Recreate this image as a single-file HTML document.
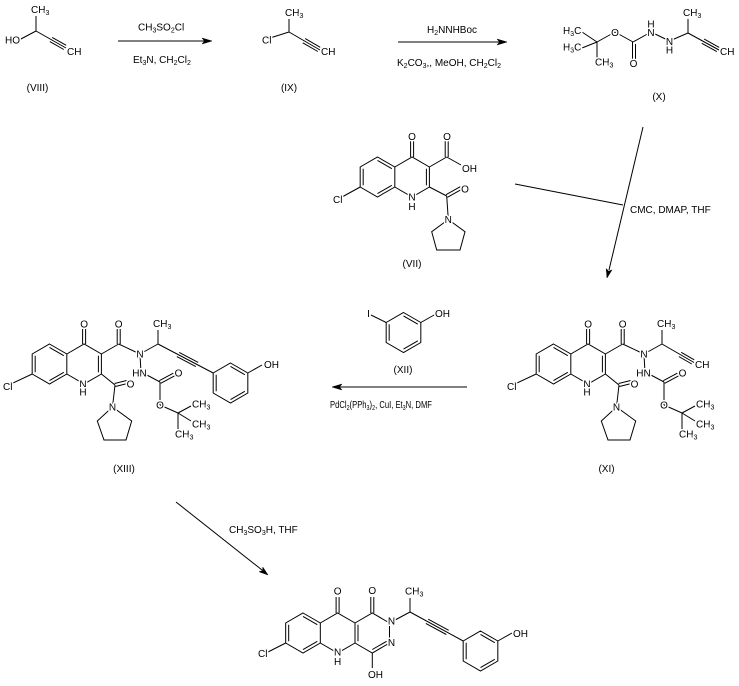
<!DOCTYPE html>
<html><head><meta charset="utf-8"><style>
html,body{margin:0;padding:0;background:#fff;}
svg{display:block}
text{font-family:"Liberation Sans",Arial,sans-serif;font-size:10px;fill:#000}
.a{stroke:#fff;stroke-width:3px;paint-order:stroke;stroke-linejoin:round}
.s{font-size:7px}
.m{text-anchor:middle}
line,path{stroke:#000;stroke-width:1;fill:none}
polygon{fill:#000;stroke:#000;stroke-width:0.5}
</style></head><body>
<svg width="739" height="686" viewBox="0 0 739 686" xmlns="http://www.w3.org/2000/svg">

<!-- ========== VIII ========== -->
<line x1="36" y1="16" x2="36" y2="31"/>
<line x1="19" y1="40" x2="36" y2="31"/>
<line x1="36" y1="31" x2="66" y2="48"/>
<line x1="49.8" y1="41.6" x2="63.8" y2="49.5"/>
<line x1="52.2" y1="37.4" x2="66.2" y2="45.3"/>
<text x="31" y="13" class="a">CH<tspan class="s" dy="2">3</tspan></text>
<text x="5" y="43.5" class="a">HO</text>
<text x="67" y="55" class="a">CH</text>
<text x="37.5" y="91" class="m">(VIII)</text>

<!-- arrow 1 -->
<line x1="118" y1="41" x2="204" y2="41"/>
<polygon points="212,41 202,38 204.5,41 202,44"/>
<text x="138" y="30.5">CH<tspan class="s" dy="2">3</tspan><tspan dy="-2">SO</tspan><tspan class="s" dy="2">2</tspan><tspan dy="-2">Cl</tspan></text>
<text x="133" y="63">Et<tspan class="s" dy="2">3</tspan><tspan dy="-2">N, CH</tspan><tspan class="s" dy="2">2</tspan><tspan dy="-2">Cl</tspan><tspan class="s" dy="2">2</tspan></text>

<!-- ========== IX ========== -->
<line x1="289" y1="19" x2="289" y2="32"/>
<line x1="270" y1="38" x2="289" y2="32"/>
<line x1="289" y1="32" x2="320" y2="50"/>
<line x1="302.8" y1="42.8" x2="317.8" y2="51.5"/>
<line x1="305.2" y1="38.6" x2="320.2" y2="47.3"/>
<text x="285" y="16" class="a">CH<tspan class="s" dy="2">3</tspan></text>
<text x="262" y="43.5" class="a">Cl</text>
<text x="321" y="55" class="a">CH</text>
<text x="289" y="91" class="m">(IX)</text>

<!-- arrow 2 -->
<line x1="398" y1="42" x2="499" y2="42"/>
<polygon points="507,42 497,39 499.5,42 497,45"/>
<text x="427" y="33">H<tspan class="s" dy="2">2</tspan><tspan dy="-2">NNHBoc</tspan></text>
<text x="397" y="66">K<tspan class="s" dy="2">2</tspan><tspan dy="-2">CO</tspan><tspan class="s" dy="2">3</tspan><tspan dy="-2">,, MeOH, CH</tspan><tspan class="s" dy="2">2</tspan><tspan dy="-2">Cl</tspan><tspan class="s" dy="2">2</tspan></text>

<!-- ========== X ========== -->
<line x1="582" y1="32" x2="597" y2="42"/>
<line x1="582" y1="48" x2="597" y2="42"/>
<line x1="597" y1="42" x2="597" y2="58"/>
<line x1="597" y1="42" x2="615" y2="32"/>
<line x1="615" y1="32" x2="633" y2="42"/>
<line x1="632.5" y1="42" x2="632.5" y2="62"/>
<line x1="635.5" y1="44" x2="635.5" y2="62"/>
<line x1="633" y1="42" x2="651" y2="32"/>
<line x1="651" y1="32" x2="669.5" y2="41"/>
<line x1="669.5" y1="41" x2="688" y2="33"/>
<line x1="688" y1="33" x2="688" y2="19"/>
<line x1="688" y1="33" x2="719" y2="50"/>
<line x1="701.8" y1="43.3" x2="716.8" y2="51.6"/>
<line x1="704.2" y1="39.1" x2="719.2" y2="47.4"/>
<text x="563" y="34" class="a">H<tspan class="s" dy="2">3</tspan><tspan dy="-2">C</tspan></text>
<text x="563" y="50.5" class="a">H<tspan class="s" dy="2">3</tspan><tspan dy="-2">C</tspan></text>
<text x="595" y="65.5" class="a">CH<tspan class="s" dy="2">3</tspan></text>
<text x="615" y="36" class="a m">O</text>
<text x="633.5" y="67" class="a m">O</text>
<text x="651" y="27.5" class="a m">H</text>
<text x="651" y="36" class="a m">N</text>
<text x="669.5" y="45" class="a m">N</text>
<text x="669.5" y="53.5" class="a m">H</text>
<text x="683" y="16" class="a">CH<tspan class="s" dy="2">3</tspan></text>
<text x="720" y="55" class="a">CH</text>
<text x="659" y="100" class="m">(X)</text>

<!-- ========== VII ========== -->
<g transform="translate(377.5,177)">
<path d="M0,-20 L17.32,-10 L17.32,10 L0,20 L-17.32,10 L-17.32,-10 Z"/>
<path d="M0,-16.54 L14.32,-8.27 M14.32,8.27 L0,16.54 M-14.32,8.27 L-14.32,-8.27"/>
</g>
<path d="M394.8,167 L412.1,157 L429.4,167 L429.4,187 L412.1,197 L394.8,187"/>
<line x1="426.4" y1="168.7" x2="426.4" y2="185.3"/>
<line x1="410.6" y1="157" x2="410.6" y2="141"/>
<line x1="413.6" y1="157" x2="413.6" y2="141"/>
<line x1="429.4" y1="167" x2="446.7" y2="157"/>
<line x1="445.2" y1="157" x2="445.2" y2="141"/>
<line x1="448.2" y1="157" x2="448.2" y2="141"/>
<line x1="446.7" y1="157" x2="461" y2="165"/>
<line x1="429.4" y1="187" x2="446.7" y2="196"/>
<line x1="447.4" y1="197.3" x2="461.7" y2="189.3"/>
<line x1="446" y1="194.7" x2="460.3" y2="186.7"/>
<line x1="446.7" y1="196" x2="448.3" y2="219.5"/>
<path d="M448.3,219.5 L465,231.7 L460,250 L436.7,250 L431.7,231.7 Z"/>
<line x1="342" y1="197" x2="360.2" y2="187"/>
<text x="412" y="140" class="a m">O</text>
<text x="447" y="140" class="a m">O</text>
<text x="462" y="172" class="a">OH</text>
<text x="465" y="192.5" class="a m">O</text>
<text x="448.3" y="223" class="a m">N</text>
<text x="333" y="203" class="a">Cl</text>
<text x="412" y="200.6" class="a m">N</text>
<text x="412" y="210" class="a m">H</text>
<text x="412" y="267" class="m">(VII)</text>

<!-- CMC arrow -->
<line x1="515" y1="184" x2="623" y2="205"/>
<line x1="643" y1="127" x2="609" y2="270"/>
<polygon points="607,278 612,269.9 608.6,271.2 606.2,268.5"/>
<text x="630" y="213">CMC, DMAP, THF</text>

<!-- ========== XII ========== -->
<g transform="translate(403.5,332.5)">
<path d="M0,-20 L17.32,-10 L17.32,10 L0,20 L-17.32,10 L-17.32,-10 Z"/>
<path d="M0,-16.54 L14.32,-8.27 M14.32,8.27 L0,16.54 M-14.32,8.27 L-14.32,-8.27"/>
</g>
<line x1="371" y1="315" x2="386.2" y2="322.5"/>
<line x1="420.8" y1="322.5" x2="435" y2="314.5"/>
<text x="368.5" y="317" class="a m">I</text>
<text x="435" y="317" class="a">OH</text>
<text x="403" y="373" class="m">(XII)</text>
<line x1="340" y1="387" x2="467" y2="387"/>
<polygon points="332,387 342,384 339.5,387 342,390"/>
<text x="330" y="408" textLength="102" lengthAdjust="spacingAndGlyphs">PdCl<tspan class="s" dy="2">2</tspan><tspan dy="-2">(PPh</tspan><tspan class="s" dy="2">3</tspan><tspan dy="-2">)</tspan><tspan class="s" dy="2">2</tspan><tspan dy="-2">, CuI, Et</tspan><tspan class="s" dy="2">3</tspan><tspan dy="-2">N, DMF</tspan></text>

<!-- ========== XIII core (and XI core translated) ========== -->
<g id="core13">
<g transform="translate(49.5,364)">
<path d="M0,-20 L17.32,-10 L17.32,10 L0,20 L-17.32,10 L-17.32,-10 Z"/>
<path d="M0,-16.54 L14.32,-8.27 M14.32,8.27 L0,16.54 M-14.32,8.27 L-14.32,-8.27"/>
</g>
<path d="M66.8,354 L84.1,344 L101.4,354 L101.4,374 L84.1,384 L66.8,374"/>
<line x1="98.4" y1="355.7" x2="98.4" y2="372.3"/>
<line x1="82.6" y1="344" x2="82.6" y2="329"/>
<line x1="85.6" y1="344" x2="85.6" y2="329"/>
<line x1="101.4" y1="354" x2="118.7" y2="344"/>
<line x1="117.2" y1="344" x2="117.2" y2="329"/>
<line x1="120.2" y1="344" x2="120.2" y2="329"/>
<line x1="118.7" y1="344" x2="140" y2="354"/>
<line x1="140" y1="354" x2="158" y2="344"/>
<line x1="158" y1="344" x2="158" y2="330"/>
<line x1="140" y1="354" x2="141" y2="373"/>
<line x1="145" y1="374" x2="160" y2="382"/>
<line x1="160.7" y1="383.3" x2="174.7" y2="375.8"/>
<line x1="159.3" y1="380.7" x2="173.3" y2="373.2"/>
<line x1="160" y1="382" x2="160" y2="405"/>
<line x1="160" y1="405" x2="178" y2="413"/>
<line x1="178" y1="413" x2="191" y2="406"/>
<line x1="178" y1="413" x2="191" y2="421"/>
<line x1="178" y1="413" x2="178" y2="429"/>
<line x1="101.4" y1="374" x2="115" y2="385"/>
<line x1="115.4" y1="386.5" x2="127.4" y2="383.5"/>
<line x1="114.6" y1="383.5" x2="126.6" y2="380.5"/>
<line x1="115" y1="385" x2="112.5" y2="407"/>
<path d="M112.5,407 L131.7,421 L126,440 L104,440 L97.3,421 Z"/>
<line x1="13" y1="383" x2="32.2" y2="374"/>
<text x="84.1" y="327.5" class="a m">O</text>
<text x="118.7" y="327.5" class="a m">O</text>
<text x="140" y="357.5" class="a m">N</text>
<text x="139.5" y="376.5" class="a m">HN</text>
<text x="178.5" y="376.5" class="a m">O</text>
<text x="160" y="408.5" class="a m">O</text>
<text x="192" y="407.5" class="a">CH<tspan class="s" dy="2">3</tspan></text>
<text x="192" y="427.5" class="a">CH<tspan class="s" dy="2">3</tspan></text>
<text x="175" y="437.5" class="a">CH<tspan class="s" dy="2">3</tspan></text>
<text x="130.5" y="387.5" class="a m">O</text>
<text x="112.5" y="410.5" class="a m">N</text>
<text x="83" y="387.5" class="a m">N</text>
<text x="83" y="395.5" class="a m">H</text>
<text x="3" y="390" class="a">Cl</text>
<text x="153" y="327" class="a">CH<tspan class="s" dy="2">3</tspan></text>
</g>

<!-- XIII specific -->
<line x1="158" y1="344" x2="213.2" y2="373"/>
<line x1="176.8" y1="356.6" x2="195.8" y2="366.6"/>
<line x1="179.2" y1="352.4" x2="198.2" y2="362.4"/>
<g transform="translate(230.5,383)">
<path d="M0,-20 L17.32,-10 L17.32,10 L0,20 L-17.32,10 L-17.32,-10 Z"/>
<path d="M0,-16.54 L14.32,-8.27 M14.32,8.27 L0,16.54 M-14.32,8.27 L-14.32,-8.27"/>
</g>
<line x1="247.8" y1="373" x2="262" y2="365"/>
<text x="264" y="368" class="a">OH</text>
<text x="124" y="472" class="m">(XIII)</text>

<!-- ========== XI ========== -->
<g transform="translate(504,0)">
<g transform="translate(49.5,364)">
<path d="M0,-20 L17.32,-10 L17.32,10 L0,20 L-17.32,10 L-17.32,-10 Z"/>
<path d="M0,-16.54 L14.32,-8.27 M14.32,8.27 L0,16.54 M-14.32,8.27 L-14.32,-8.27"/>
</g>
<path d="M66.8,354 L84.1,344 L101.4,354 L101.4,374 L84.1,384 L66.8,374"/>
<line x1="98.4" y1="355.7" x2="98.4" y2="372.3"/>
<line x1="82.6" y1="344" x2="82.6" y2="329"/>
<line x1="85.6" y1="344" x2="85.6" y2="329"/>
<line x1="101.4" y1="354" x2="118.7" y2="344"/>
<line x1="117.2" y1="344" x2="117.2" y2="329"/>
<line x1="120.2" y1="344" x2="120.2" y2="329"/>
<line x1="118.7" y1="344" x2="140" y2="354"/>
<line x1="140" y1="354" x2="158" y2="344"/>
<line x1="158" y1="344" x2="158" y2="330"/>
<line x1="140" y1="354" x2="141" y2="373"/>
<line x1="145" y1="374" x2="160" y2="382"/>
<line x1="160.7" y1="383.3" x2="174.7" y2="375.8"/>
<line x1="159.3" y1="380.7" x2="173.3" y2="373.2"/>
<line x1="160" y1="382" x2="160" y2="405"/>
<line x1="160" y1="405" x2="178" y2="413"/>
<line x1="178" y1="413" x2="191" y2="406"/>
<line x1="178" y1="413" x2="191" y2="421"/>
<line x1="178" y1="413" x2="178" y2="429"/>
<line x1="101.4" y1="374" x2="115" y2="385"/>
<line x1="115.4" y1="386.5" x2="127.4" y2="383.5"/>
<line x1="114.6" y1="383.5" x2="126.6" y2="380.5"/>
<line x1="115" y1="385" x2="112.5" y2="407"/>
<path d="M112.5,407 L131.7,421 L126,440 L104,440 L97.3,421 Z"/>
<line x1="13" y1="383" x2="32.2" y2="374"/>
<line x1="158" y1="344" x2="190" y2="362.5"/>
<line x1="174.8" y1="356.5" x2="187.8" y2="364"/>
<line x1="177.2" y1="352.3" x2="190.2" y2="359.8"/>
<text x="84.1" y="327.5" class="a m">O</text>
<text x="118.7" y="327.5" class="a m">O</text>
<text x="140" y="357.5" class="a m">N</text>
<text x="139.5" y="376.5" class="a m">HN</text>
<text x="178.5" y="376.5" class="a m">O</text>
<text x="160" y="408.5" class="a m">O</text>
<text x="192" y="407.5" class="a">CH<tspan class="s" dy="2">3</tspan></text>
<text x="192" y="427.5" class="a">CH<tspan class="s" dy="2">3</tspan></text>
<text x="175" y="437.5" class="a">CH<tspan class="s" dy="2">3</tspan></text>
<text x="130.5" y="387.5" class="a m">O</text>
<text x="112.5" y="410.5" class="a m">N</text>
<text x="83" y="387.5" class="a m">N</text>
<text x="83" y="395.5" class="a m">H</text>
<text x="3" y="390" class="a">Cl</text>
<text x="153" y="327" class="a">CH<tspan class="s" dy="2">3</tspan></text>
<text x="191" y="368" class="a">CH</text>
</g>
<text x="606.5" y="472" class="m">(XI)</text>

<!-- arrow to product -->
<line x1="176" y1="502" x2="262" y2="570"/>
<polygon points="268,575 259.1,571.75 262.5,570.6 262.8,567.05"/>
<text x="229" y="533">CH<tspan class="s" dy="2">3</tspan><tspan dy="-2">SO</tspan><tspan class="s" dy="2">3</tspan><tspan dy="-2">H, THF</tspan></text>

<!-- ========== Product ========== -->
<g transform="translate(303,633)">
<path d="M0,-20 L17.32,-10 L17.32,10 L0,20 L-17.32,10 L-17.32,-10 Z"/>
<path d="M0,-16.54 L14.32,-8.27 M14.32,8.27 L0,16.54 M-14.32,8.27 L-14.32,-8.27"/>
</g>
<path d="M320.3,623 L337.6,613 L355,623 L355,643 L337.6,653 L320.3,643"/>
<line x1="336.1" y1="613" x2="336.1" y2="597"/>
<line x1="339.1" y1="613" x2="339.1" y2="597"/>
<path d="M355,623 L372.3,613 L389.5,623 L389.5,643 L372.3,653 L355,643"/>
<line x1="358" y1="624.7" x2="358" y2="641.3"/>
<line x1="386.6" y1="641.3" x2="372.3" y2="649.5"/>
<line x1="370.8" y1="613" x2="370.8" y2="597"/>
<line x1="373.8" y1="613" x2="373.8" y2="597"/>
<line x1="372.3" y1="653" x2="372.3" y2="668"/>
<line x1="389.5" y1="623" x2="410" y2="612"/>
<line x1="410" y1="612" x2="410" y2="598"/>
<line x1="410" y1="612" x2="463.2" y2="641"/>
<line x1="425.8" y1="623.4" x2="446.3" y2="634.5"/>
<line x1="428.2" y1="619.2" x2="448.7" y2="630.3"/>
<g transform="translate(480.5,651)">
<path d="M0,-20 L17.32,-10 L17.32,10 L0,20 L-17.32,10 L-17.32,-10 Z"/>
<path d="M0,-16.54 L14.32,-8.27 M14.32,8.27 L0,16.54 M-14.32,8.27 L-14.32,-8.27"/>
</g>
<line x1="497.8" y1="641" x2="512" y2="633"/>
<line x1="268" y1="652" x2="285.7" y2="643"/>
<text x="337.6" y="594.5" class="a m">O</text>
<text x="372.3" y="594" class="a m">O</text>
<text x="337.6" y="655.5" class="a m">N</text>
<text x="337.6" y="665" class="a m">H</text>
<text x="391.5" y="624.5" class="a m">N</text>
<text x="391.5" y="646" class="a m">N</text>
<text x="368" y="678" class="a">OH</text>
<text x="405" y="594.5" class="a">CH<tspan class="s" dy="2">3</tspan></text>
<text x="513" y="637" class="a">OH</text>
<text x="258" y="657" class="a">Cl</text>

</svg>
</body></html>
